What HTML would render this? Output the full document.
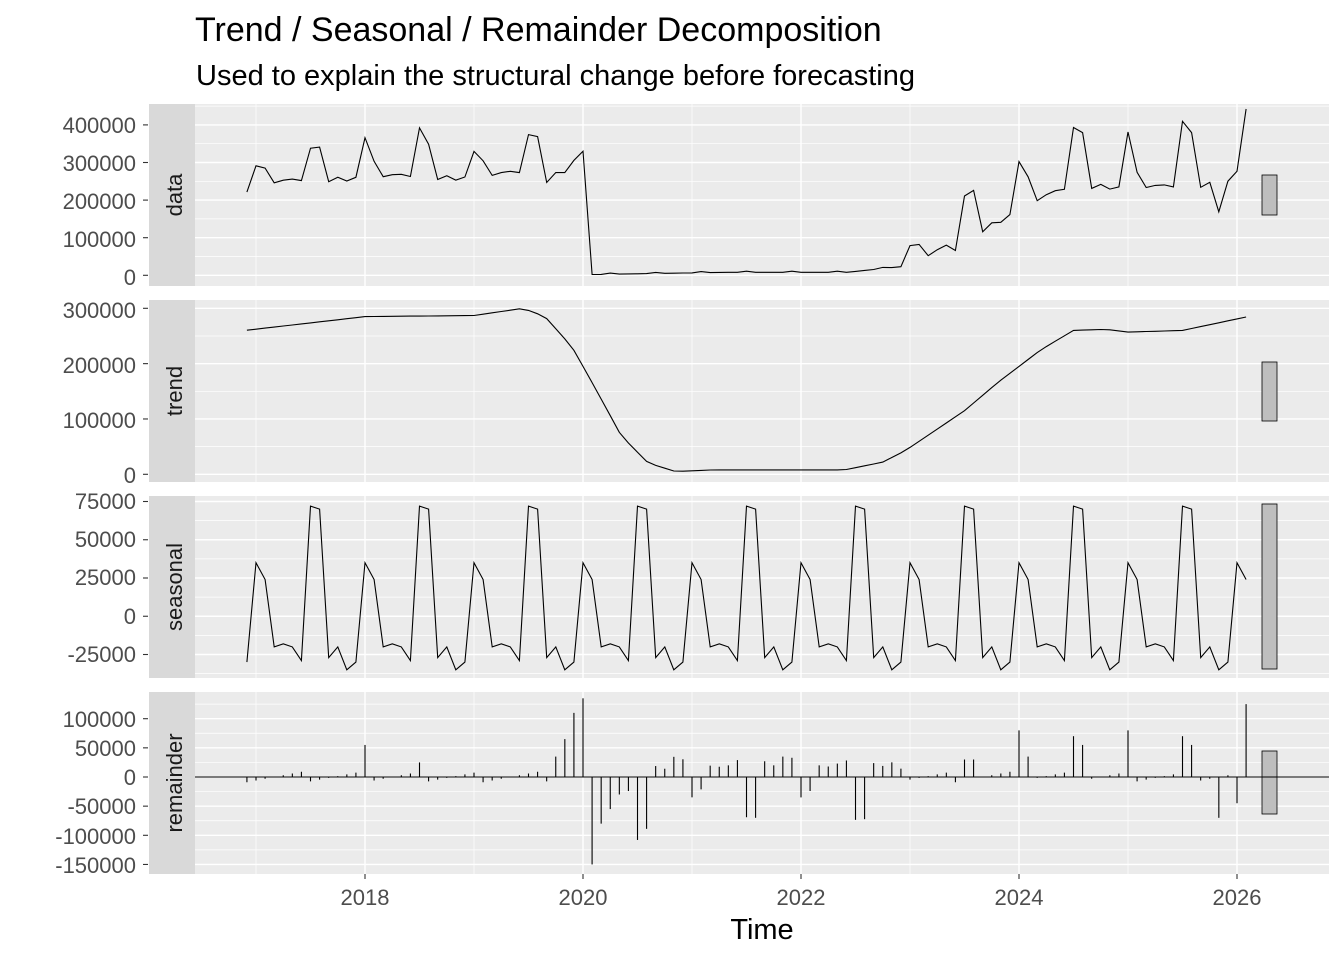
<!DOCTYPE html>
<html><head><meta charset="utf-8"><style>
body{margin:0;background:#fff;}
svg text{font-family:"Liberation Sans",Arial,sans-serif;}
</style></head><body>
<svg id="s" width="1344" height="960" viewBox="0 0 1344 960" xmlns="http://www.w3.org/2000/svg">
<rect width="1344" height="960" fill="#fff"/>
<text x="195" y="41" font-size="34" fill="#000">Trend / Seasonal / Remainder Decomposition</text>
<text x="196" y="85" font-size="29" fill="#000">Used to explain the structural change before forecasting</text>
<g id="panels"></g>
<g font-size="22" fill="#4D4D4D" text-anchor="end">
<text x="136" y="133">400000</text><text x="136" y="171">300000</text><text x="136" y="209">200000</text><text x="136" y="247">100000</text><text x="136" y="285">0</text>
<text x="136" y="318">300000</text><text x="136" y="373">200000</text><text x="136" y="428">100000</text><text x="136" y="483">0</text>
<text x="136" y="509">75000</text><text x="136" y="547">50000</text><text x="136" y="585">25000</text><text x="136" y="624">0</text><text x="136" y="662">-25000</text>
<text x="136" y="727">100000</text><text x="136" y="756">50000</text><text x="136" y="785">0</text><text x="136" y="814">-50000</text><text x="136" y="844">-100000</text><text x="136" y="873">-150000</text>
</g>
<g font-size="22" fill="#1A1A1A" text-anchor="middle">
<text transform="translate(182,195) rotate(-90)">data</text>
<text transform="translate(182,391) rotate(-90)">trend</text>
<text transform="translate(182,587) rotate(-90)">seasonal</text>
<text transform="translate(182,783) rotate(-90)">remainder</text>
</g>
<g font-size="22" fill="#4D4D4D" text-anchor="middle">
<text x="365" y="905">2018</text><text x="583" y="905">2020</text><text x="801" y="905">2022</text><text x="1019" y="905">2024</text><text x="1237" y="905">2026</text>
</g>
<text x="762" y="939" font-size="29" text-anchor="middle" fill="#000">Time</text>
</svg>
<script>
(function(){
var NS="http://www.w3.org/2000/svg",G=document.getElementById("panels");
function el(n,a){var e=document.createElementNS(NS,n);for(var k in a)e.setAttribute(k,a[k]);G.appendChild(e);return e;}
function X(t){return 365+(t-2018)*109;}
var P=[{top:104,z:275.3,s:37.6/100000,maj:[0,100000,200000,300000,400000],step:50000,lo:-50000,hi:450000,bar:[175,215]},
{top:300,z:474.3,s:55.33/100000,maj:[0,100000,200000,300000],step:50000,lo:-50000,hi:300000,bar:[362,421]},
{top:496,z:616.25,s:38.25/25000,maj:[-25000,0,25000,50000,75000],step:12500,lo:-37500,hi:75000,bar:[504,669]},
{top:692,z:777,s:58.3/100000,maj:[-150000,-100000,-50000,0,50000,100000],step:25000,lo:-175000,hi:125000,bar:[751,814]}];
var L=195,R=1329,H=182;
P.forEach(function(p){
 el("rect",{x:149,y:p.top,width:46,height:H,fill:"#D9D9D9"});
 el("rect",{x:L,y:p.top,width:R-L,height:H,fill:"#EBEBEB"});
 for(var v=p.lo;v<=p.hi;v+=p.step){var y=p.z-v*p.s;if(y<p.top||y>p.top+H)continue;
  var mj=p.maj.indexOf(v)>=0;el("line",{x1:L,x2:R,y1:y,y2:y,stroke:"#fff","stroke-width":mj?1.4:0.7});}
 for(var yr=2017;yr<=2026;yr++){var x=X(yr);el("line",{x1:x,x2:x,y1:p.top,y2:p.top+H,stroke:"#fff","stroke-width":yr%2==0?1.4:0.7});}
 p.maj.forEach(function(v){var y=p.z-v*p.s;el("line",{x1:143,x2:148,y1:y,y2:y,stroke:"#333","stroke-width":1.1});});
 el("rect",{x:1262,y:p.bar[0],width:15,height:p.bar[1]-p.bar[0],fill:"#BEBEBE",stroke:"#000","stroke-width":0.8});
});
[2018,2020,2022,2024,2026].forEach(function(yr){var x=X(yr);el("line",{x1:x,x2:x,y1:874,y2:879,stroke:"#333","stroke-width":1.1});});
var SEA=[35000,24000,-20000,-18000,-20000,-29000,72000,70000,-27000,-20000,-35000,-30000];
var TK=[[2016.9,260000],[2018,285000],[2019,287000],[2019.45,300000],[2019.65,285000],[2019.9,230000],[2020.1,160000],[2020.35,70000],[2020.6,20000],[2020.85,5000],[2021.2,8000],[2022.4,8000],[2022.75,22000],[2022.95,42000],[2023.2,75000],[2023.5,115000],[2023.8,165000],[2024.2,225000],[2024.5,260000],[2024.8,262000],[2025.0,257000],[2025.5,260000],[2026.1,285000]];
function trend(t){for(var i=1;i<TK.length;i++)if(t<=TK[i][0]){var a=TK[i-1],b=TK[i];return a[1]+(b[1]-a[1])*(t-a[0])/(b[0]-a[0]);}return TK[TK.length-1][1];}
var N=111,T=[],D=[],TR=[],SE=[],RE=[];
var EXTRA={34:35000,35:65000,36:110000,37:135000,13:55000,19:25000,43:-20000,79:30000,80:30000,85:80000,86:35000,91:70000,92:55000,97:80000,103:70000,104:55000,110:125000,109:-45000,107:-70000};
for(var i=0;i<N;i++){var t=2016.9167+i/12,m=(11+i)%12;T.push(t);var tr=trend(t),se=SEA[m];TR.push(tr);SE.push(se);
 var d;
 if(i>=38&&i<=72){d=2000+Math.min(6000,(i-38)*400)+(i>=66?(i-66)*2500:0)+(i%5==0?3000:0);}
 else{d=tr+se+(EXTRA[i]||0)+((i*7919)%13-6)*1500;}
 if(i==37)d=330000;
 D.push(d);
 var r=d-tr-se; if(EXTRA[i]!==undefined&&!(i>=38&&i<=72))r=EXTRA[i];
 if(i==38)r=-150000; if(i==39)r=-80000; if(i==40)r=-55000; if(i==41)r=-30000;
 r=Math.max(-150000,Math.min(135000,r));RE.push(r);}
function line(p,arr){var pts=arr.map(function(v,i){return X(T[i]).toFixed(1)+","+(p.z-v*p.s).toFixed(1);}).join(" ");
 el("polyline",{points:pts,fill:"none",stroke:"#000","stroke-width":1.1});}
line(P[0],D);line(P[1],TR);line(P[2],SE);
var p=P[3];el("line",{x1:L,x2:R,y1:p.z,y2:p.z,stroke:"#000","stroke-width":1.1});
RE.forEach(function(v,i){var x=X(T[i]);el("line",{x1:x,x2:x,y1:p.z,y2:p.z-v*p.s,stroke:"#000","stroke-width":1.1});});
})();
</script>
</body></html>
